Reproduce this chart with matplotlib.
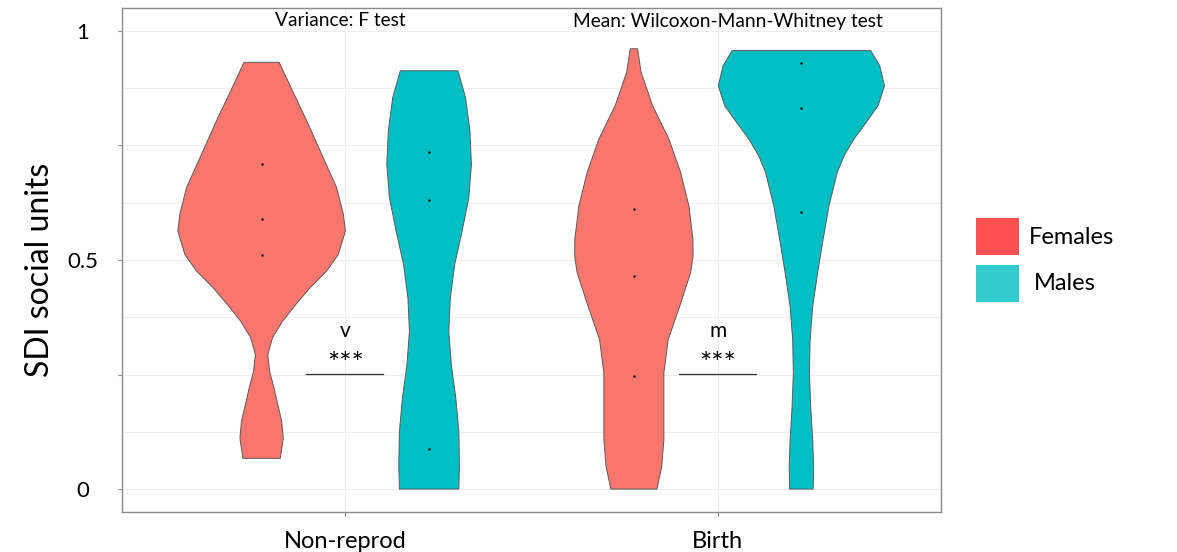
import matplotlib
matplotlib.use("Agg")
import matplotlib.pyplot as plt
from matplotlib.patches import Rectangle
import numpy as np

# ---- data -------------------------------------------------------------
groups = ["Non-reprod", "Birth"]
sexes = ["Females", "Males"]

# observed SDI values per group / sex
points_nonreprod_f = [0.710, 0.589, 0.512]
points_nonreprod_m = [0.736, 0.630, 0.087]
points_birth_f = [0.611, 0.465, 0.246]
points_birth_m = [0.929, 0.831, 0.605]

# violin density profiles: SDI level and relative density (1 = widest)
prof_nonreprod_f_y = [0.9315, 0.877, 0.804, 0.731, 0.658, 0.600, 0.563, 0.512, 0.476, 0.439,
                      0.403, 0.366, 0.330, 0.293, 0.257, 0.220, 0.184, 0.147, 0.111, 0.067]
prof_nonreprod_f_d = [0.209, 0.349, 0.538, 0.717, 0.896, 0.976, 1.000, 0.916, 0.777, 0.577,
                      0.409, 0.249, 0.129, 0.074, 0.096, 0.149, 0.194, 0.241, 0.259, 0.223]

prof_nonreprod_m_y = [0.913, 0.855, 0.782, 0.709, 0.636, 0.563, 0.490, 0.417, 0.344, 0.271,
                      0.198, 0.125, 0.052, 0.0]
prof_nonreprod_m_d = [0.344, 0.434, 0.487, 0.505, 0.474, 0.394, 0.305, 0.253, 0.235, 0.265,
                      0.319, 0.355, 0.362, 0.355]

prof_birth_f_y = [0.961, 0.910, 0.837, 0.764, 0.691, 0.618, 0.545, 0.508, 0.472, 0.399,
                  0.326, 0.253, 0.180, 0.107, 0.049, 0.0]
prof_birth_f_d = [0.044, 0.086, 0.223, 0.418, 0.558, 0.657, 0.705, 0.707, 0.677, 0.547,
                  0.409, 0.358, 0.358, 0.358, 0.332, 0.275]

prof_birth_m_y = [0.957, 0.924, 0.880, 0.837, 0.800, 0.764, 0.727, 0.691, 0.618, 0.545,
                  0.472, 0.399, 0.326, 0.253, 0.180, 0.107, 0.049, 0.0]
prof_birth_m_d = [0.827, 0.935, 0.992, 0.916, 0.773, 0.627, 0.508, 0.428, 0.329, 0.259,
                  0.194, 0.135, 0.104, 0.096, 0.111, 0.135, 0.146, 0.140]

test_titles = ["Variance: F test", "Mean: Wilcoxon-Mann-Whitney test"]
test_marks = ["v", "m"]
test_signif = ["***", "***"]

y_ticks = [0, 0.25, 0.5, 0.75, 1]
y_ticklabels = ["0", "", "0.5", "", "1"]

# ---- style ------------------------------------------------------------
FONT = ["Lato", "DejaVu Sans"]
plt.rcParams["font.family"] = FONT
violin_colors = {"Females": "#F8766D", "Males": "#00BFC4"}
legend_colors = {"Females": "#FF5050", "Males": "#33CCCC"}
DODGE = 0.225
MAX_HALF = 0.225
W, H = 1177, 552

fig = plt.figure(figsize=(W / 100, H / 100), dpi=100)
ax = fig.add_axes([122 / W, 40 / H, (941 - 122) / W, (544 - 40) / H])

ax.set_xlim(0.4, 2.6)
ax.set_ylim(-0.05, 1.05)

# grid
for yv in np.arange(0, 1.0001, 0.125):
    ax.axhline(yv, color="#EEEEEE", lw=0.8, zorder=0)
for xv in (1, 2):
    ax.axvline(xv, color="#EEEEEE", lw=0.8, zorder=0)

profiles = {
    ("Non-reprod", "Females"): (prof_nonreprod_f_y, prof_nonreprod_f_d, points_nonreprod_f),
    ("Non-reprod", "Males"): (prof_nonreprod_m_y, prof_nonreprod_m_d, points_nonreprod_m),
    ("Birth", "Females"): (prof_birth_f_y, prof_birth_f_d, points_birth_f),
    ("Birth", "Males"): (prof_birth_m_y, prof_birth_m_d, points_birth_m),
}

for gi, g in enumerate(groups):
    for si, s in enumerate(sexes):
        py, pd_, pts = profiles[(g, s)]
        cx = gi + 1 + (-DODGE if si == 0 else DODGE)
        py = np.asarray(py)
        hw = np.asarray(pd_) * MAX_HALF
        xs = np.concatenate([cx + hw, (cx - hw)[::-1]])
        ys = np.concatenate([py, py[::-1]])
        ax.fill(xs, ys, facecolor=violin_colors[s], edgecolor="#5a5a5a",
                lw=0.7, zorder=2, joinstyle="round")
        ax.scatter([cx] * len(pts), pts, s=3, color="black", zorder=3, linewidths=0)

# significance annotations
for gi in range(len(groups)):
    cx = gi + 1
    ax.plot([cx - 0.105, cx + 0.102], [0.252, 0.252], color="#333333", lw=0.9, zorder=3)
    ax.text(cx, 0.27, test_signif[gi], ha="center", va="center", fontsize=21, zorder=3)
    ax.text(cx, 0.346, test_marks[gi], ha="center", va="center", fontsize=15, zorder=3)

title_x = [340, 728]
for gi in range(len(groups)):
    fig.text(title_x[gi] / W, 1 - 21 / H, test_titles[gi],
             ha="center", va="center", fontsize=13.8)

# axes styling
for sp in ax.spines.values():
    sp.set_color("#8a8a8a")
    sp.set_linewidth(1.0)
ax.set_xticks([1, 2])
ax.set_xticklabels(groups, fontsize=17)
ax.set_yticks(y_ticks)
ax.set_yticklabels(y_ticklabels, fontsize=16, ha="center")
ax.tick_params(axis="y", length=3, color="#8a8a8a", pad=25)
ax.tick_params(axis="x", length=3, color="#8a8a8a", pad=11)
fig.text(40 / W, 1 - 270 / H, "SDI social units", rotation=90,
         ha="center", va="center", fontsize=23)

# legend
for i, s in enumerate(sexes):
    top = 218 + i * 47
    fig.add_artist(Rectangle((976 / W, 1 - (top + 37) / H), 43 / W, 37 / H,
                             transform=fig.transFigure, facecolor=legend_colors[s],
                             edgecolor="none"))
    fig.text((1029 + i * 5) / W, 1 - (top + 19) / H, s, fontsize=17,
             ha="left", va="center")

fig.savefig("out.png", dpi=100)
